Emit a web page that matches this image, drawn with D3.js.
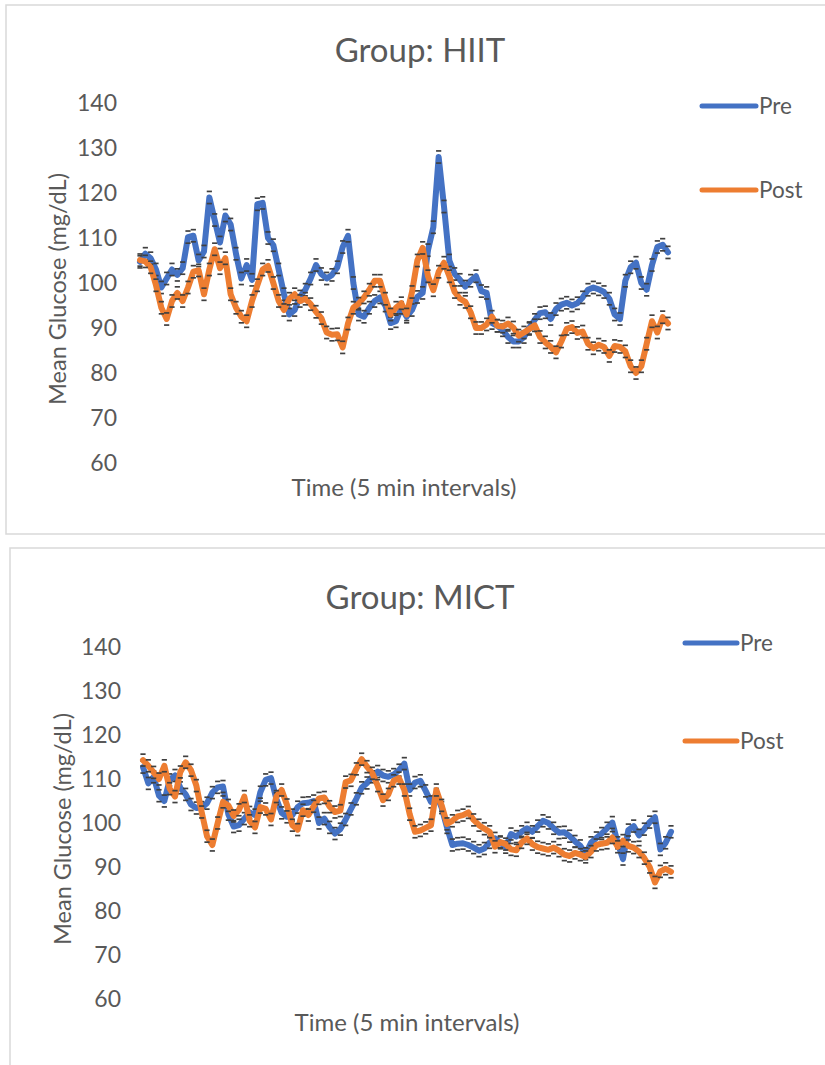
<!DOCTYPE html>
<html>
<head>
<meta charset="utf-8">
<script src="https://cdn.jsdelivr.net/npm/d3@7"></script>
<style>
    body { margin: 0; background: #fff; }
    text { font-family: Lato, "Open Sans", sans-serif; fill: #595959; }
</style>
</head>
<body>
<svg id="chart" width="825" height="1065"></svg>
<script>
// y axis ticks (mg/dL)
const yTicks = [60, 70, 80, 90, 100, 110, 120, 130, 140];
const seriesNames = ["Pre", "Post"];
const errorSize = 1.35; // +/- error bar, mg/dL

// Group: HIIT, mean glucose per 5 min interval
const hiitPre = [
    104.7, 106.5, 105.5, 103, 99, 101, 103, 101.8, 103.3, 110.2,
    110.5, 105, 107, 119, 114, 109, 115, 113, 106.5, 101,
    104, 100.7, 117.5, 117.8, 110, 108.4, 103, 97.5, 93, 94,
    97, 98.5, 101, 104, 102, 101, 101.8, 103.5, 108, 110.5,
    100, 93, 92.5, 94.5, 96, 96.8, 95, 91.1, 91.5, 94.5,
    92.5, 94, 96.9, 97.8, 107.3, 112.4, 128, 117, 105, 102,
    100.7, 99.2, 100.5, 101.5, 98.2, 97.8, 91.1, 90.5, 89.5, 88,
    87, 87, 88, 90, 91.8, 93.3, 93.5, 92, 94.2, 95.2,
    95.6, 95, 95.5, 96.8, 98.5, 99, 98.6, 98, 96.5, 93,
    92, 100.5, 103.5, 104.5, 100, 98.5, 104, 108, 108.5, 106.8
];
const hiitPost = [
    105.1, 104.8, 103.5, 99.5, 94.5, 92, 96, 97.8, 96, 99,
    102.5, 102.8, 97.5, 103, 107.5, 103.3, 105.5, 97.5, 94.5, 92.5,
    91.5, 96, 99.5, 103, 103.8, 100, 96, 94, 96.5, 97.5,
    96, 96.5, 95.3, 93.6, 92.2, 89, 88.5, 88.6, 85.7, 91,
    94.5, 95.4, 96.8, 98.5, 100.5, 100.5, 96.5, 93, 94.5, 95.5,
    93, 98, 105, 107.8, 101.5, 98.4, 102.5, 104.5, 101.5, 98,
    96.5, 95.8, 93.5, 90, 90, 90.8, 92.5, 90.5, 90.3, 91,
    90.1, 88.3, 89, 89.8, 90.6, 88, 86.8, 85.8, 84.6, 87,
    89.8, 90.2, 88.9, 89.2, 86.5, 85.5, 86.3, 85.8, 83.8, 86,
    85.8, 84.8, 81.5, 80, 81.5, 86.5, 91.5, 89, 92.4, 91
];

// Group: MICT
const mictPre = [
    112.7, 109, 110.5, 106.2, 105, 109.8, 110.8, 108, 106.5, 104.2,
    103.4, 103.5, 104.5, 106.9, 108.1, 108.3, 102, 99.2, 99.5, 101,
    102.4, 101.8, 107, 109.8, 110.2, 105.5, 102.3, 101.4, 101.8, 103.6,
    104.5, 104.6, 105, 100, 101, 99, 97.6, 98.6, 100.8, 103.2,
    105.5, 108, 109.1, 110.5, 111.7, 110.8, 110.5, 111, 112, 113.5,
    107.5, 109.2, 109.6, 107.3, 104.8, 106.5, 103.5, 99, 95, 95.3,
    95.4, 95, 94.4, 93.7, 94.2, 95.6, 96.5, 95.5, 94.5, 97.5,
    96.9, 98, 98.8, 98, 99.3, 100.5, 100, 98.8, 97.8, 97.9,
    97, 95.8, 94.8, 93, 95.5, 96.6, 97.6, 98.8, 100.1, 95.5,
    91.8, 98.4, 99.3, 97.2, 98.6, 100.2, 101.3, 94, 95.5, 98
];
const mictPost = [
    114.3, 113, 111.5, 110, 113, 107.8, 106, 111.6, 113.8, 112,
    108.5, 102.5, 97, 95, 100, 104.8, 104, 101.6, 103, 106,
    100.5, 99, 103.6, 103.2, 100.8, 106, 107.5, 104.1, 99.5, 98.5,
    102.9, 101.8, 103.8, 105.6, 105.8, 103.7, 102.5, 102.8, 109.3, 109.7,
    112.3, 114.5, 112.8, 111.3, 108.5, 105.2, 106.5, 109.6, 110.2, 107.5,
    102, 98, 98.3, 98.9, 99.5, 107.5, 104, 99.8, 100.5, 101.5,
    101.8, 102.4, 100.7, 99.5, 98.7, 98, 94.6, 95.7, 95.2, 94,
    93.8, 95.6, 96.5, 95.2, 94.5, 94.2, 93.9, 94.4, 93.7, 92.8,
    92.5, 93.2, 92.8, 92.3, 93.5, 95, 95.3, 95.5, 96.7, 94.6,
    96, 94.8, 94.4, 93.5, 92, 90, 86.5, 89, 89.6, 88.9
];

const colors = { Pre: "#4472C4", Post: "#ED7D31" };

const svg = d3.select("#chart");

// draw one chart panel
function drawPanel(opts) {
    const g = svg.append("g");

    // chart area border
    g.append("rect")
        .attr("x", opts.box.x)
        .attr("y", opts.box.y)
        .attr("width", opts.box.w)
        .attr("height", opts.box.h)
        .attr("fill", "#fff")
        .attr("stroke", "#d9d9d9")
        .attr("stroke-width", 1.5);

    const xScale = d3.scaleLinear()
        .domain([0, opts.series[0].length - 1])
        .range([opts.plot.left, opts.plot.right]);

    const yScale = d3.scaleLinear()
        .domain([60, 140])
        .range([opts.plot.bottom, opts.plot.top]);

    // y axis: labels only, no line or ticks
    const yAxis = g.append("g")
        .attr("transform", `translate(${opts.plot.labelRight},0)`)
        .call(d3.axisLeft(yScale).tickValues(yTicks).tickSize(0).tickPadding(0));
    yAxis.select(".domain").remove();
    yAxis.selectAll("text")
        .style("font-size", "23px")
        .style("font-family", "Lato, sans-serif")
        .attr("fill", "#595959");

    // title
    g.append("text")
        .attr("x", opts.titleX)
        .attr("y", opts.titleY)
        .attr("text-anchor", "middle")
        .style("font-size", "33px")
        .text(opts.title);

    // axis titles
    g.append("text")
        .attr("x", opts.xTitle.x)
        .attr("y", opts.xTitle.y)
        .attr("text-anchor", "middle")
        .style("font-size", "24px")
        .text("Time (5 min intervals)");

    g.append("text")
        .attr("transform", `translate(${opts.yTitle.x},${opts.yTitle.y}) rotate(-90)`)
        .attr("text-anchor", "middle")
        .style("font-size", "23.5px")
        .text("Mean Glucose (mg/dL)");

    const line = d3.line()
        .x((d, i) => xScale(i))
        .y(d => yScale(d));

    opts.series.forEach((values, k) => {
        const name = seriesNames[k];

        g.append("path")
            .datum(values)
            .attr("fill", "none")
            .attr("stroke", colors[name])
            .attr("stroke-width", 6)
            .attr("stroke-linejoin", "round")
            .attr("stroke-linecap", "round")
            .attr("d", line);

        // error bar caps
        [-errorSize, errorSize].forEach(e => {
            g.append("g").selectAll("line")
                .data(values)
                .join("line")
                .attr("x1", (d, i) => xScale(i) - 2.6)
                .attr("x2", (d, i) => xScale(i) + 2.6)
                .attr("y1", d => yScale(d + e))
                .attr("y2", d => yScale(d + e))
                .attr("stroke", "#404040")
                .attr("stroke-width", 1.7);
        });

        // legend
        const ly = opts.legend.y[k];
        g.append("line")
            .attr("x1", opts.legend.x1)
            .attr("x2", opts.legend.x2)
            .attr("y1", ly)
            .attr("y2", ly)
            .attr("stroke", colors[name])
            .attr("stroke-width", 5)
            .attr("stroke-linecap", "round");
        g.append("text")
            .attr("x", opts.legend.x2 + 3)
            .attr("y", ly)
            .attr("dy", "0.35em")
            .style("font-size", "22.5px")
            .text(name);
    });
}

drawPanel({
    title: "Group: HIIT",
    series: [hiitPre, hiitPost],
    box: { x: 6, y: 5, w: 830, h: 529 },
    plot: { left: 140, right: 668, top: 103, bottom: 463, labelRight: 117 },
    titleX: 420, titleY: 62,
    xTitle: { x: 404, y: 496 },
    yTitle: { x: 66, y: 289 },
    legend: { x1: 702, x2: 756, y: [106, 190] }
});

drawPanel({
    title: "Group: MICT",
    series: [mictPre, mictPost],
    box: { x: 10, y: 548, w: 830, h: 530 },
    plot: { left: 143, right: 671, top: 647, bottom: 999, labelRight: 121 },
    titleX: 420, titleY: 609,
    xTitle: { x: 407, y: 1031 },
    yTitle: { x: 71, y: 829 },
    legend: { x1: 685, x2: 737, y: [643, 741] }
});
</script>
</body>
</html>
